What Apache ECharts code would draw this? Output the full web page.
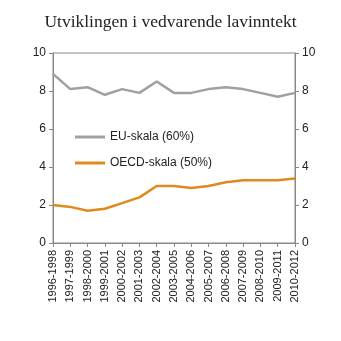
<!DOCTYPE html>
<html><head><meta charset="utf-8">
<script src="https://cdn.jsdelivr.net/npm/echarts@6/dist/echarts.min.js"></script>
<style>html,body{margin:0;padding:0;background:#fff}#c{width:341px;height:341px}</style>
</head><body><div id="c"></div>
<script>
const categories = ["1996-1998","1997-1999","1998-2000","1999-2001","2000-2002","2001-2003","2002-2004","2003-2005","2004-2006","2005-2007","2006-2008","2007-2009","2008-2010","2009-2011","2010-2012"];
const euSkala = [8.9,8.1,8.2,7.8,8.1,7.9,8.5,7.9,7.9,8.1,8.2,8.1,7.9,7.7,7.9];
const oecdSkala = [2.0,1.9,1.7,1.8,2.1,2.4,3.0,3.0,2.9,3.0,3.2,3.3,3.3,3.3,3.4];
const seriesNames = ["EU-skala (60%)","OECD-skala (50%)"];
const titleText = "Utviklingen i vedvarende lavinntekt";

const chart = echarts.init(document.getElementById('c'), null, {renderer:'canvas'});
const yAxisBase = {
  type:'value', min:0, max:10, interval:2,
  axisLine:{show:true, lineStyle:{color:'#888', width:1}},
  axisTick:{show:true, length:4, lineStyle:{color:'#888'}},
  splitLine:{show:false},
  axisLabel:{color:'#222', fontSize:12, fontFamily:'Liberation Sans', margin:7}
};
chart.setOption({
  animation:false,
  title:{text:titleText, left:'center', top:8, textStyle:{fontFamily:'Liberation Serif', fontWeight:'normal', fontSize:17.5, color:'#222'}},
  grid:{left:53, right:46, top:53, bottom:98, show:true, borderColor:'#888', borderWidth:1},
  legend:{orient:'vertical', left:70, top:126, itemWidth:30, itemHeight:8, itemGap:14,
    textStyle:{fontFamily:'Liberation Sans', fontSize:12, color:'#222'}, icon:'path://M0,0 L30,0 L30,3 L0,3 Z',
    data:seriesNames},
  xAxis:{type:'category', data:categories, boundaryGap:false,
    axisLine:{lineStyle:{color:'#888'}},
    axisTick:{show:true, length:4, lineStyle:{color:'#888'}},
    axisLabel:{rotate:90, interval:0, fontSize:11, fontFamily:'Liberation Sans', color:'#222', margin:7}},
  yAxis:[Object.assign({position:'left'}, yAxisBase), Object.assign({position:'right'}, yAxisBase)],
  series:[
    {name:seriesNames[0], type:'line', data:euSkala, symbol:'none', lineStyle:{color:'#a0a0a0', width:2.5}, itemStyle:{color:'#a0a0a0'}},
    {name:seriesNames[1], type:'line', data:oecdSkala, symbol:'none', lineStyle:{color:'#e08a1c', width:2.5}, itemStyle:{color:'#e08a1c'}}
  ]
});
</script></body></html>
